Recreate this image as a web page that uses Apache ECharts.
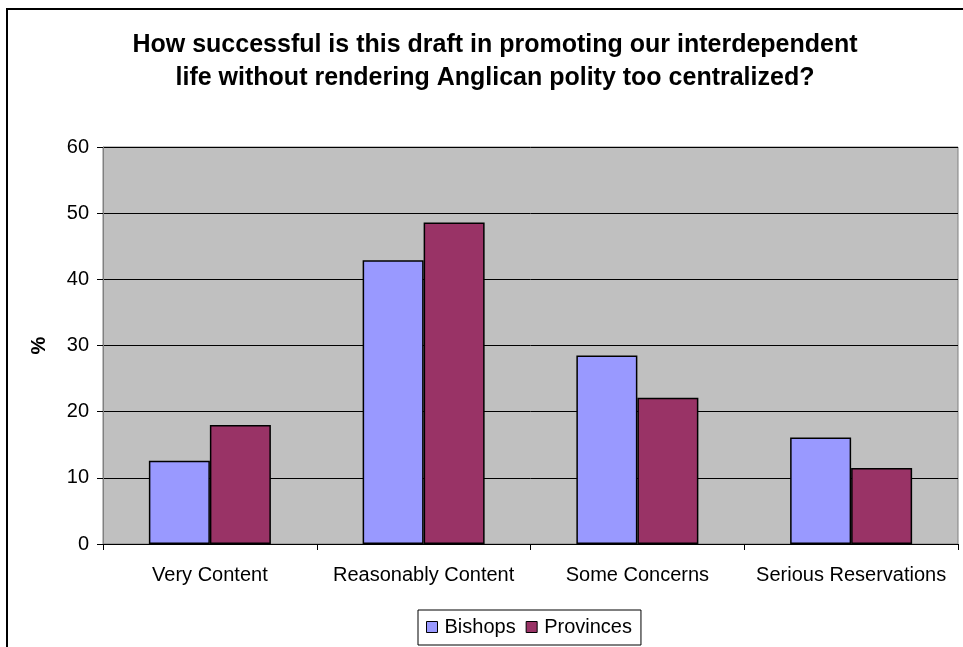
<!DOCTYPE html>
<html>
<head>
<meta charset="utf-8">
<script src="https://cdn.jsdelivr.net/npm/echarts@6/dist/echarts.min.js"></script>
<style>
html,body{margin:0;padding:0;background:#fff;}
#chart{width:963px;height:647px;}
</style>
</head>
<body>
<div id="chart"></div>
<script>
const categories = ['Very Content', 'Reasonably Content', 'Some Concerns', 'Serious Reservations'];
const bishops = [12.6, 42.9, 28.5, 16.1];
const provinces = [18.0, 48.6, 22.1, 11.5];
const yTicks = [0, 10, 20, 30, 40, 50, 60];
const titleText = 'How successful is this draft in promoting our interdependent\nlife without rendering Anglican polity too centralized?';

const FONT = 'Liberation Sans, Arial, sans-serif';
const chart = echarts.init(document.getElementById('chart'), null, {renderer: 'canvas'});
chart.setOption({
  animation: false,
  backgroundColor: '#ffffff',
  title: {
    text: titleText,
    left: 490,
    top: 24,
    textAlign: 'center',
    textStyle: {fontFamily: FONT, fontSize: 25, fontWeight: 'bold', color: '#000', lineHeight: 33}
  },
  graphic: [{
    type: 'rect',
    shape: {x: 7, y: 9, width: 1100, height: 800},
    style: {fill: 'none', stroke: '#000', lineWidth: 2},
    silent: true,
    z: 100
  }],
  legend: {
    data: ['Bishops', 'Provinces'],
    left: 418,
    top: 610,
    orient: 'horizontal',
    icon: 'rect',
    itemWidth: 11,
    itemHeight: 11,
    itemGap: 10,
    padding: [7, 9, 8, 8],
    borderColor: '#000',
    borderWidth: 1,
    backgroundColor: '#fff',
    itemStyle: {borderColor: '#000', borderWidth: 1},
    textStyle: {fontFamily: FONT, fontSize: 20, color: '#000', padding: [0, 0, 0, 2]}
  },
  grid: {
    left: 103, right: 5, top: 147, bottom: 103,
    show: true,
    backgroundColor: '#C0C0C0',
    borderColor: '#808080',
    borderWidth: 1,
    containLabel: false
  },
  xAxis: {
    type: 'category',
    data: categories,
    boundaryGap: true,
    axisLine: {show: true, lineStyle: {color: '#000', width: 1}},
    axisTick: {show: true, length: 6, alignWithLabel: false, lineStyle: {color: '#000'}},
    axisLabel: {fontFamily: FONT, fontSize: 20, color: '#000', margin: 21, interval: 0}
  },
  yAxis: {
    type: 'value',
    min: yTicks[0],
    max: yTicks[yTicks.length - 1],
    interval: 10,
    name: '%',
    nameLocation: 'middle',
    nameGap: 54,
    nameRotate: 90,
    nameTextStyle: {fontFamily: FONT, fontSize: 20, fontWeight: 'bold', color: '#000'},
    axisLine: {show: true, lineStyle: {color: '#808080', width: 1}},
    axisTick: {show: true, length: 6, inside: false, lineStyle: {color: '#000'}},
    axisLabel: {fontFamily: FONT, fontSize: 20, color: '#000', margin: 14},
    splitLine: {show: true, lineStyle: {color: '#000', width: 1}}
  },
  series: [
    {
      name: 'Bishops', type: 'bar', data: bishops,
      barWidth: 61, barGap: '0%',
      itemStyle: {color: '#9999FF', borderColor: '#000', borderWidth: 1.5}
    },
    {
      name: 'Provinces', type: 'bar', data: provinces,
      barWidth: 61, barGap: '0%',
      itemStyle: {color: '#993366', borderColor: '#000', borderWidth: 1.5}
    }
  ]
});
</script>
</body>
</html>
